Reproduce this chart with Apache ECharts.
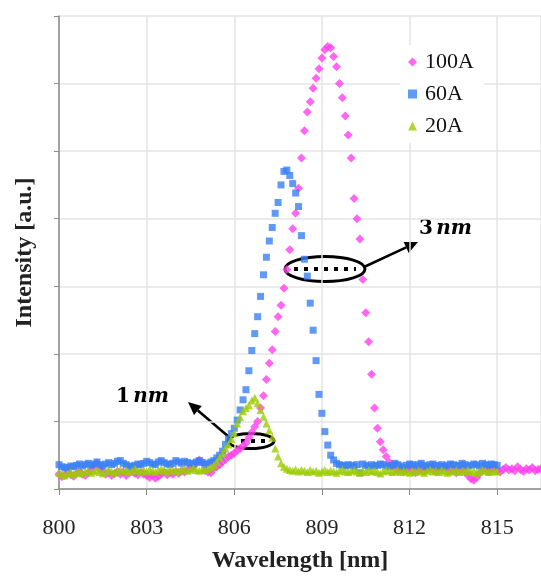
<!DOCTYPE html>
<html>
<head>
<meta charset="utf-8">
<script src="https://cdn.jsdelivr.net/npm/echarts@6/dist/echarts.min.js"></script>
<style>
  html, body { margin: 0; padding: 0; background: #fff; }
  #chart { width: 541px; height: 579px; }
</style>
</head>
<body>
<div id="chart"></div>
<script>
// wavelength grid [nm], one reading every 0.1 nm
const wavelength = [
  800.0, 800.1, 800.2, 800.3, 800.4, 800.5, 800.6, 800.7, 800.8, 800.9,
  801.0, 801.1, 801.2, 801.3, 801.4, 801.5, 801.6, 801.7, 801.8, 801.9,
  802.0, 802.1, 802.2, 802.3, 802.4, 802.5, 802.6, 802.7, 802.8, 802.9,
  803.0, 803.1, 803.2, 803.3, 803.4, 803.5, 803.6, 803.7, 803.8, 803.9,
  804.0, 804.1, 804.2, 804.3, 804.4, 804.5, 804.6, 804.7, 804.8, 804.9,
  805.0, 805.1, 805.2, 805.3, 805.4, 805.5, 805.6, 805.7, 805.8, 805.9,
  806.0, 806.1, 806.2, 806.3, 806.4, 806.5, 806.6, 806.7, 806.8, 806.9,
  807.0, 807.1, 807.2, 807.3, 807.4, 807.5, 807.6, 807.7, 807.8, 807.9,
  808.0, 808.1, 808.2, 808.3, 808.4, 808.5, 808.6, 808.7, 808.8, 808.9,
  809.0, 809.1, 809.2, 809.3, 809.4, 809.5, 809.6, 809.7, 809.8, 809.9,
  810.0, 810.1, 810.2, 810.3, 810.4, 810.5, 810.6, 810.7, 810.8, 810.9,
  811.0, 811.1, 811.2, 811.3, 811.4, 811.5, 811.6, 811.7, 811.8, 811.9,
  812.0, 812.1, 812.2, 812.3, 812.4, 812.5, 812.6, 812.7, 812.8, 812.9,
  813.0, 813.1, 813.2, 813.3, 813.4, 813.5, 813.6, 813.7, 813.8, 813.9,
  814.0, 814.1, 814.2, 814.3, 814.4, 814.5, 814.6, 814.7, 814.8, 814.9,
  815.0, 815.1, 815.2, 815.3, 815.4, 815.5, 815.6, 815.7, 815.8, 815.9,
  816.0, 816.1, 816.2, 816.3, 816.4, 816.5
];

// intensities [a.u.]
const intensity100A = [
  0.22, 0.18, 0.20, 0.24, 0.21, 0.19, 0.23, 0.26, 0.22, 0.20,
  0.24, 0.28, 0.34, 0.38, 0.30, 0.25, 0.22, 0.24, 0.20, 0.23,
  0.26, 0.22, 0.25, 0.20, 0.24, 0.27, 0.23, 0.21, 0.25, 0.22,
  0.20, 0.17, 0.20, 0.16, 0.19, 0.22, 0.25, 0.21, 0.24, 0.22,
  0.26, 0.23, 0.27, 0.25, 0.28, 0.30, 0.33, 0.38, 0.43, 0.40,
  0.27, 0.25, 0.24, 0.30, 0.33, 0.36, 0.40, 0.44, 0.48, 0.50,
  0.53, 0.57, 0.60, 0.64, 0.68, 0.76, 0.84, 0.92, 1.00, 1.20,
  1.38, 1.62, 1.86, 2.06, 2.33, 2.55, 2.72, 2.97, 3.25, 3.54,
  3.85, 4.08, 4.45, 4.90, 5.30, 5.58, 5.73, 5.93, 6.08, 6.22,
  6.38, 6.50, 6.55, 6.53, 6.40, 6.25, 6.00, 5.79, 5.52, 5.24,
  4.90, 4.30, 4.00, 3.70, 3.10, 2.61, 2.18, 1.70, 1.20, 0.90,
  0.70, 0.58, 0.48, 0.40, 0.35, 0.30, 0.27, 0.29, 0.25, 0.28,
  0.31, 0.27, 0.24, 0.28, 0.30, 0.26, 0.29, 0.32, 0.28, 0.25,
  0.27, 0.30, 0.33, 0.29, 0.26, 0.28, 0.24, 0.27, 0.30, 0.26,
  0.20, 0.15, 0.13, 0.17, 0.23, 0.27, 0.30, 0.26, 0.28, 0.31,
  0.27, 0.25, 0.29, 0.32, 0.28, 0.30, 0.27, 0.33, 0.29, 0.26,
  0.30, 0.28, 0.32, 0.27, 0.29, 0.30
];

const intensity60A = [
  0.36, 0.33, 0.31, 0.32, 0.34, 0.33, 0.35, 0.37, 0.34, 0.36,
  0.38, 0.35, 0.37, 0.40, 0.36, 0.34, 0.37, 0.39, 0.36, 0.38,
  0.41, 0.42, 0.38, 0.36, 0.34, 0.33, 0.35, 0.37, 0.36, 0.38,
  0.41, 0.39, 0.37, 0.36, 0.40, 0.42, 0.39, 0.37, 0.36, 0.38,
  0.42, 0.40, 0.38, 0.41, 0.39, 0.38, 0.37, 0.40, 0.42, 0.39,
  0.36, 0.38, 0.40, 0.42, 0.46, 0.50, 0.56, 0.66, 0.74, 0.82,
  0.90, 1.02, 1.17, 1.32, 1.47, 1.75, 2.05, 2.30, 2.55, 2.85,
  3.17, 3.43, 3.67, 3.87, 4.08, 4.24, 4.50, 4.70, 4.72, 4.64,
  4.52, 4.38, 4.18, 3.75, 3.40, 3.15, 2.75, 2.35, 1.90, 1.40,
  1.12, 0.85, 0.65, 0.50, 0.43, 0.38, 0.36, 0.35, 0.34, 0.36,
  0.35, 0.33, 0.36, 0.24, 0.37, 0.35, 0.33, 0.36, 0.34, 0.35,
  0.37, 0.36, 0.34, 0.33, 0.35, 0.38, 0.36, 0.34, 0.32, 0.35,
  0.37, 0.36, 0.34, 0.36, 0.38, 0.35, 0.33, 0.36, 0.37, 0.35,
  0.34, 0.36, 0.33, 0.35, 0.37, 0.36, 0.34, 0.35, 0.38, 0.36,
  0.34, 0.35, 0.37, 0.36, 0.34, 0.38, 0.36, 0.35, 0.37, 0.36,
  0.35
];

const intensity20A = [
  0.24, 0.22, 0.20, 0.23, 0.25, 0.22, 0.24, 0.26, 0.23, 0.25,
  0.27, 0.24, 0.26, 0.28, 0.25, 0.23, 0.26, 0.28, 0.26, 0.24,
  0.27, 0.29, 0.26, 0.28, 0.25, 0.27, 0.30, 0.27, 0.25, 0.28,
  0.26, 0.29, 0.27, 0.25, 0.28, 0.30, 0.27, 0.26, 0.29, 0.27,
  0.28, 0.26, 0.29, 0.30, 0.27, 0.29, 0.31, 0.28, 0.27, 0.29,
  0.28, 0.30, 0.32, 0.35, 0.40, 0.47, 0.53, 0.60, 0.66, 0.74,
  0.83, 0.97, 1.06, 1.15, 1.20, 1.24, 1.31, 1.35, 1.27, 1.17,
  1.07, 0.97, 0.87, 0.76, 0.60, 0.48, 0.38, 0.33, 0.30, 0.28,
  0.27, 0.29, 0.26, 0.28, 0.27, 0.25, 0.28, 0.26, 0.27, 0.24,
  0.26, 0.28, 0.25, 0.27, 0.26, 0.24, 0.27, 0.29, 0.26, 0.25,
  0.27, 0.28, 0.26, 0.24, 0.27, 0.25, 0.28, 0.26, 0.27, 0.25,
  0.23, 0.26, 0.28, 0.27, 0.25, 0.26, 0.28, 0.25, 0.27, 0.26,
  0.24, 0.27, 0.25, 0.28, 0.26, 0.24, 0.27, 0.29, 0.26, 0.27,
  0.25, 0.28, 0.26, 0.24, 0.27, 0.26, 0.28, 0.25, 0.27, 0.26,
  0.28, 0.25, 0.27, 0.24, 0.26, 0.28, 0.27, 0.25, 0.26, 0.27,
  0.26
];

const seriesNames = ["100A", "60A", "20A"];

const serif = "'Liberation Serif', 'Times New Roman', serif";
const mathSerif = "'DejaVu Serif', serif";

const toPairs = (values) => values.map((v, i) => [wavelength[i], v]);

// arrow from (x1,y1) to (x2,y2), head drawn at the end point
function arrow(x1, y1, x2, y2) {
  const a = Math.atan2(y2 - y1, x2 - x1);
  const len = 13, half = 6;
  const bx = x2 - len * Math.cos(a), by = y2 - len * Math.sin(a);
  const px = -Math.sin(a) * half, py = Math.cos(a) * half;
  return [
    { type: "line", shape: { x1, y1, x2: bx, y2: by }, style: { stroke: "#000", lineWidth: 2.5 } },
    {
      type: "polygon",
      shape: { points: [[x2, y2], [bx + px, by + py], [bx - px, by - py]] },
      style: { fill: "#000" }
    }
  ];
}

// ellipse around the half-maximum, dotted line inside
function fwhmMark(cx, cy, rx, ry, dx1, dx2) {
  return [
    { type: "ellipse", shape: { cx, cy, rx, ry }, style: { fill: "none", stroke: "#000", lineWidth: 3 } },
    {
      type: "line",
      shape: { x1: dx1, y1: cy, x2: dx2, y2: cy },
      style: { stroke: "#000", lineWidth: 4, lineDash: [4, 6] }
    }
  ];
}

function label(x, y, num) {
  return {
    type: "text",
    x, y,
    style: {
      text: "{n|" + num + "} {u|nm}",
      rich: {
        n: { fontFamily: mathSerif, fontWeight: "bold", fontSize: 20, fill: "#000" },
        u: { fontFamily: mathSerif, fontWeight: "bold", fontStyle: "italic", fontSize: 20, fill: "#000" }
      },
      verticalAlign: "middle"
    }
  };
}

const chart = echarts.init(document.getElementById("chart"));

chart.setOption({
  animation: false,
  backgroundColor: "#fff",
  grid: { left: 59, top: 16, right: 0, bottom: 90 },
  legend: {
    orient: "vertical",
    left: 400,
    top: 45,
    itemWidth: 9,
    itemHeight: 9,
    itemGap: 10,
    backgroundColor: "#fff",
    padding: [6, 10, 6, 8],
    textStyle: { fontFamily: serif, fontSize: 22, color: "#111", padding: [0, 0, 0, 3] },
    data: seriesNames
  },
  xAxis: {
    type: "value",
    min: 800,
    max: 816.5,
    interval: 3,
    name: "Wavelength [nm]",
    nameLocation: "middle",
    nameGap: 60,
    nameTextStyle: { fontFamily: serif, fontWeight: "bold", fontSize: 24, color: "#222" },
    axisLine: { lineStyle: { color: "#8a8a8a", width: 1.5 } },
    axisTick: { show: true, length: 6, lineStyle: { color: "#8a8a8a" } },
    axisLabel: { fontFamily: serif, fontSize: 22, color: "#222", margin: 28, showMaxLabel: false },
    splitLine: { show: true, lineStyle: { color: "#e4e4e4", width: 1.5 } }
  },
  yAxis: {
    type: "value",
    min: 0,
    max: 7,
    interval: 1,
    name: "Intensity [a.u.]",
    nameLocation: "middle",
    nameGap: 22,
    nameTextStyle: { fontFamily: serif, fontWeight: "bold", fontSize: 24, color: "#222" },
    axisLine: { show: true, lineStyle: { color: "#8a8a8a", width: 1.5 } },
    axisTick: { show: true, length: 5, lineStyle: { color: "#8a8a8a" } },
    axisLabel: { show: false },
    splitLine: { show: true, lineStyle: { color: "#e4e4e4", width: 1.5 } }
  },
  series: [
    {
      name: seriesNames[0],
      type: "scatter",
      symbol: "diamond",
      symbolSize: 9,
      itemStyle: { color: "#ff40ee" },
      data: toPairs(intensity100A)
    },
    {
      name: seriesNames[1],
      type: "scatter",
      symbol: "rect",
      symbolSize: 7,
      itemStyle: { color: "#3a7ff5" },
      data: toPairs(intensity60A)
    },
    {
      name: seriesNames[2],
      type: "scatter",
      symbol: "triangle",
      symbolSize: 8,
      itemStyle: { color: "#9ccc00" },
      data: toPairs(intensity20A)
    }
  ],
  graphic: [
    ...fwhmMark(325, 269, 40, 12.5, 294, 356),
    ...arrow(364, 267, 418, 242),
    label(419, 229, "3"),
    ...fwhmMark(251, 441, 23, 7.5, 241, 266),
    ...arrow(229, 437, 188, 402),
    label(116, 397, "1")
  ]
});
</script>
</body>
</html>
